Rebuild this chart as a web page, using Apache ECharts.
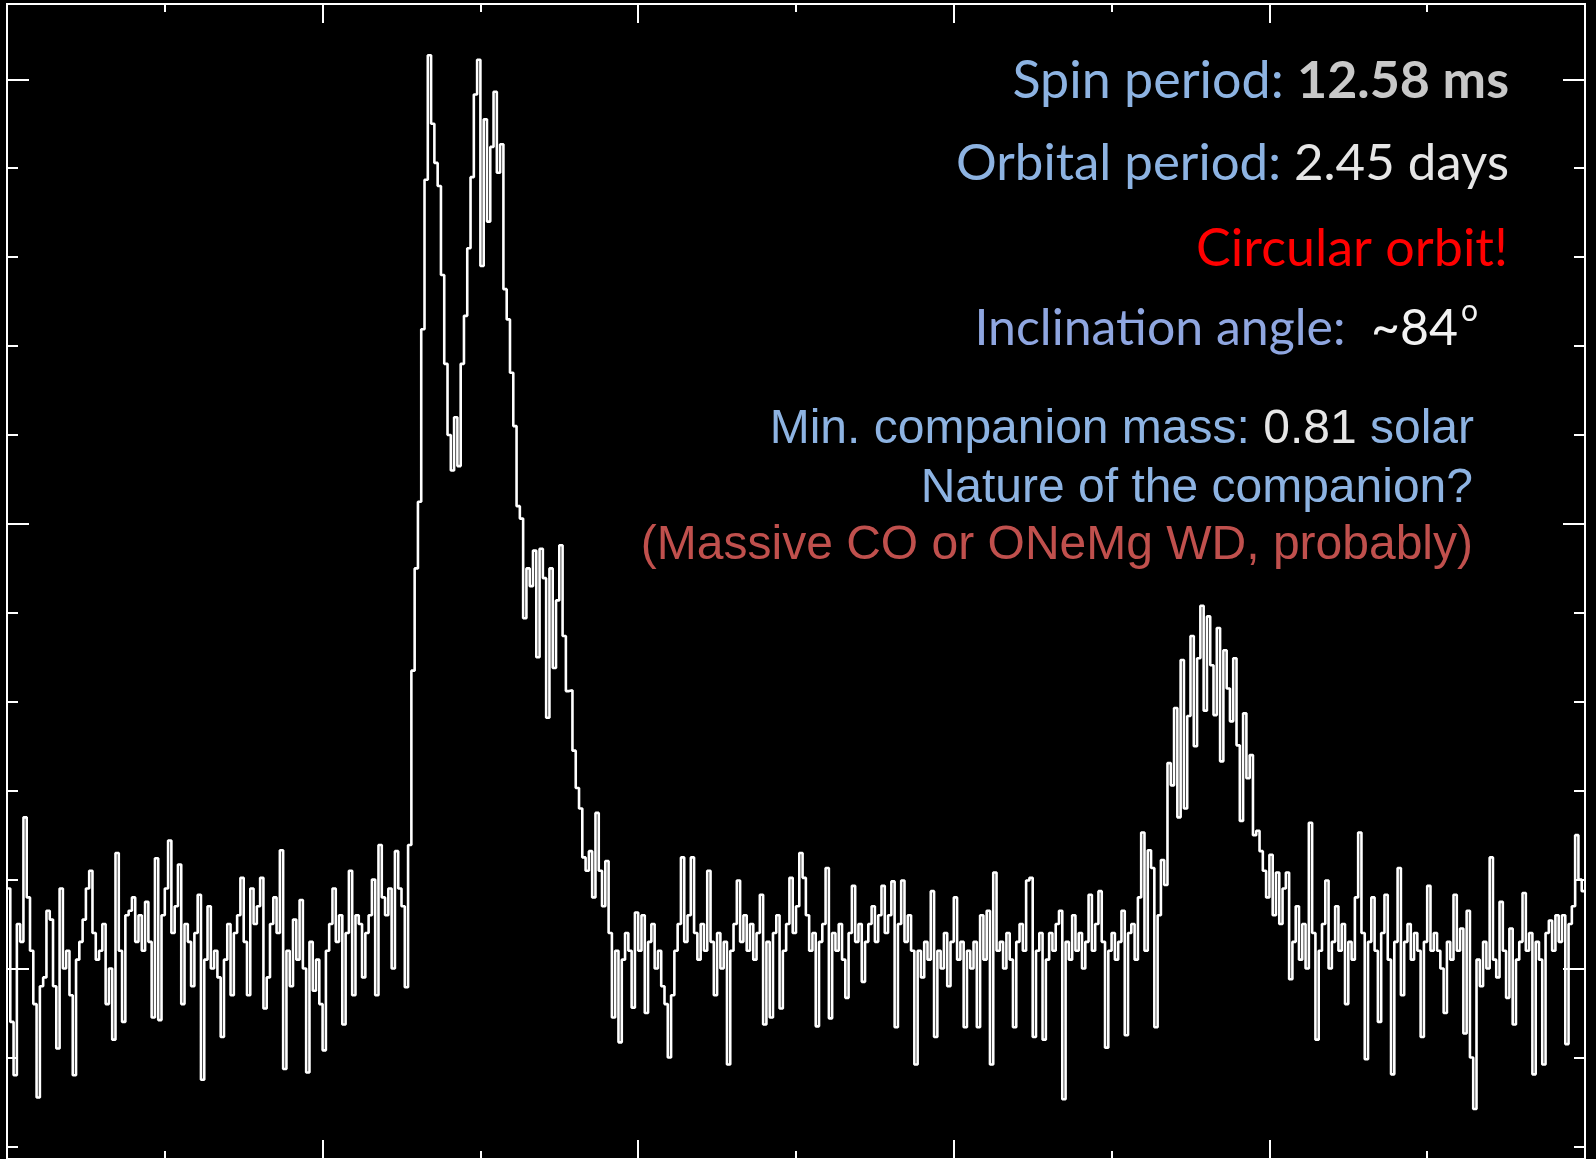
<!DOCTYPE html>
<html>
<head>
<meta charset="utf-8">
<title>Pulse profile</title>
<script src="https://cdn.jsdelivr.net/npm/echarts@6.0.0/dist/echarts.min.js"></script>
<style>
  html, body { margin: 0; padding: 0; background: #000; }
  #chart { width: 1596px; height: 1159px; }
</style>
</head>
<body>
<div id="chart"></div>
<script>
// pulse profile, 480 phase bins, arbitrary flux units (major ticks at 0 / 50 / 100)
const offPulseLeft = [
  9, -6, -12, 5, 3, 17, 8, 2, -4, -14.5, -2, -1, 6.5, 5.5, -2, -9, 9, 0, 2, -3,
  -12, 1, 3, 5.5, 9, 11, 4, 1, 2, 5, -4, 0, -8, 13, 2, -6, 6, 6.5, 8, 3,
  6, 2, 7.5, 3, -5.5, 12.4, -5.8, 6, 9, 14.4, 4, 7, 11.7, -4, 5,
  3, -2, 4, 8.3, -12.5, 1, 7, 0, 2, -1, -7.7, 1, 5, -3,
  4, 6, 10.2, 3, -3, 9, 5, 7, 10.2, -4.5, -1, 5, 8, 4, 13.3, -11.3,
  2, -2, 5.5, 1, 7.7, 0, -11.7, 3, -2.5, 1, -4, -9.2,
  2, 5, 9, 3, 6, -6.3, 4, 11, -3, 6, 5, -1, 4,
  6, 10, -3, 13.9, 8, 6, 9, 0, 13.2, 9, 7, -2.1, 13.9
];
const mainPulse = [
  33.5, 45, 52.5, 71.9, 88.7, 102.7, 95, 90.6, 88, 78, 68, 60, 56, 62, 56.5, 68,
  73.4, 81, 89, 98.3, 102.2, 79, 95.5, 84, 92.4, 98.6, 89.5, 92.7, 76.4, 73, 67, 61,
  52, 50.6, 39.4, 45, 43, 47, 35, 47.2, 43.9, 28.2, 45, 33.8, 41.4, 47.6, 37.4,
  31.2, 31.3, 24.5, 20.3, 18, 12.5, 11, 13.2, 8, 17.5, 11, 7, 12.1
];
const offPulseMid = [
  4, -5.5, 2, -8.3,
  1, 4, 2, -4.4, 6.3, 2, 6, -5, 3, 5, 0, 2,
  -2, -4, -10, -3,
  2, 5, 12.5, 3, 6, 12.5,
  4, 1, 5, 2, 11, 3, -3, 4, 0, 3, -10.8, 2,
  5, 9.9, 3, 6, 2, 5, 1, 4, 8.3, -6.3, 3, -5.5, 4, 6, -4.5, 2, 5, 10.2, 4, 7, 13, 10.2, 6, 2, 4, -6.5,
  3, 5, 11.3, -5.6, 4, 2, 5, 1, -3.3, 4, 9.3, 3, 5, -1.5, 3,
  5, 7, 3, 6, 9.3, 4, 6, 9.8, -6.6, 5, 9.9, 3, 6, 2, -10.8,
  2, -1, 3, 1, 8.7, -7.7, 2, 0, 4, -2, 3, 8, 1, 3, -6.6, 2, 0, 3, -6.6, 6, 1, 6.5, -10.8, 10.8, 2,
  3, 0, 4, 1, -6.6, 3, 5, 2, 9.9, 10.2, -7.7, 2, 4, -8, 1, 4, 2, 5, 6.5, -14.7,
  3, 1, 6, 2, 4, 0, 3, 8.3, 2, 5, 8.7, 3, -8.9, 2, 4, 1, 3, 6.5, -7.5, 4
];
const interPulse = [
  5, 1, 8, 15.3, 2, 13.3, 11.3, -6.6,
  6, 12.2, 9.4, 23.1, 20.6, 29.3, 17, 34.7, 18, 28.4, 37.4, 25, 34.9, 40.8, 29,
  39.6, 34.1, 28.5, 38.3, 23.3, 35.8, 31.5, 27.8, 34.9, 25.1, 16.6, 28.7, 21.4, 24,
  15, 15.5, 13.2, 11
];
const offPulseRight = [
  8, 12.8, 6, 10.8, 5, 9,
  10.8, -1.2, 3, 7, 1, 5, 0, 16.4,
  4, -8, 2, 5, 9.9, 0, 3, 7,
  2, 5, -4, 3, 1, 8, 15.3, 4,
  -10.2, 3, 8, 2, -6, 4, 8.3, 1, -11.9, 3,
  11.3, -3, 3, 5, 1, 4, 2, -7.7, 3, 9.3, 2, 4,
  2, 0, -5, 3, 1, 8.3, 2, 4.5, -7.3, 6.5, -10, -15.8,
  1, -2, 3, 0, 12.5, 1, -1, 7.5, 2, -3.3, 4.5, -6.3, 1, 3, 8.5,
  2, 4, -11.9, 3, 1, -10.8, 4, 5.4, 2, 6, 3, 6, -8.5, 5, 7, 15, 10, 8.7
];
const majorYTicks = [0, 50, 100];
const minorYTicks = [-20, -10, 10, 20, 30, 40, 60, 70, 80, 90];
const yMin = -21.42;
const yMax = 108.47;

const profile = [].concat(offPulseLeft, mainPulse, offPulseMid, interPulse, offPulseRight);
const nBins = profile.length;
const seriesData = profile.map((v, i) => [i / nBins, v]);
seriesData.push([1, profile[nBins - 1]]); // close last bin

const frame = { color: "#fff", width: 2 };
const xAx = (pos) => ({
  type: "value",
  min: 0,
  max: 1,
  interval: 0.2,
  position: pos,
  axisLine: { show: true, onZero: false, lineStyle: frame },
  axisTick: { show: true, inside: true, length: 19, lineStyle: frame },
  minorTick: { show: true, splitNumber: 2, length: 8, lineStyle: frame },
  axisLabel: { show: false },
  splitLine: { show: false },
});
const yAx = (pos, ticks, len) => ({
  type: "value",
  min: yMin,
  max: yMax,
  position: pos,
  axisLine: { show: true, onZero: false, lineStyle: frame },
  axisTick: { show: true, inside: true, length: len, customValues: ticks, lineStyle: frame },
  axisLabel: { show: false },
  splitLine: { show: false },
});

const blue = "#8db3e2";
const calibriLike = "Lato, 'Open Sans', sans-serif";
const arialLike = "'Liberation Sans', Arial, sans-serif";

const chart = echarts.init(document.getElementById("chart"));
chart.setOption({
  backgroundColor: "#000",
  animation: false,
  grid: { left: 7, top: 4, width: 1578, height: 1158 },
  xAxis: [xAx("bottom"), xAx("top")],
  yAxis: [
    yAx("left", majorYTicks, 22),
    yAx("left", minorYTicks, 11),
    yAx("right", majorYTicks, 22),
    yAx("right", minorYTicks, 11),
  ],
  series: [
    {
      type: "line",
      step: "end",
      data: seriesData,
      xAxisIndex: 0,
      yAxisIndex: 0,
      showSymbol: false,
      lineStyle: { color: "#fff", width: 2.6 },
    },
  ],
  graphic: [
    {
      type: "text", x: 1509, y: 81,
      style: {
        text: "{a|Spin period: }{b|12.58 ms}", align: "right", verticalAlign: "middle",
        rich: {
          a: { fill: blue, fontSize: 52, fontFamily: calibriLike },
          b: { fill: "#c8c8c8", fontSize: 52, fontFamily: calibriLike, fontWeight: "bold" },
        },
      },
    },
    {
      type: "text", x: 1509, y: 164,
      style: {
        text: "{a|Orbital period: }{b|2.45 days}", align: "right", verticalAlign: "middle",
        rich: {
          a: { fill: blue, fontSize: 51, fontFamily: calibriLike },
          b: { fill: "#e6e6e6", fontSize: 51, fontFamily: calibriLike },
        },
      },
    },
    {
      type: "text", x: 1508, y: 249,
      style: {
        text: "Circular orbit!", align: "right", verticalAlign: "middle",
        fill: "#ff0000", fontSize: 52, fontFamily: calibriLike,
      },
    },
    {
      type: "text", x: 1458, y: 329,
      style: {
        text: "{a|Inclination angle:  }{b|~84}", align: "right", verticalAlign: "middle",
        rich: {
          a: { fill: "#8fa6e0", fontSize: 50, fontFamily: calibriLike },
          b: { fill: "#f2f2f2", fontSize: 50, fontFamily: calibriLike },
        },
      },
    },
    {
      type: "text", x: 1461, y: 311,
      style: {
        text: "o", align: "left", verticalAlign: "middle",
        fill: "#f2f2f2", fontSize: 30, fontFamily: calibriLike,
      },
    },
    {
      type: "text", x: 1474, y: 430,
      style: {
        text: "{a|Min. companion mass: }{b|0.81}{a| solar}", align: "right", verticalAlign: "middle",
        rich: {
          a: { fill: blue, fontSize: 48, fontFamily: arialLike },
          b: { fill: "#e6e6e6", fontSize: 48, fontFamily: arialLike },
        },
      },
    },
    {
      type: "text", x: 1473, y: 489,
      style: {
        text: "Nature of the companion?", align: "right", verticalAlign: "middle",
        fill: blue, fontSize: 48, fontFamily: arialLike,
      },
    },
    {
      type: "text", x: 1473, y: 546,
      style: {
        text: "(Massive CO or ONeMg WD, probably)", align: "right", verticalAlign: "middle",
        fill: "#c0504d", fontSize: 48, fontFamily: arialLike,
      },
    },
  ],
});
</script>
</body>
</html>
